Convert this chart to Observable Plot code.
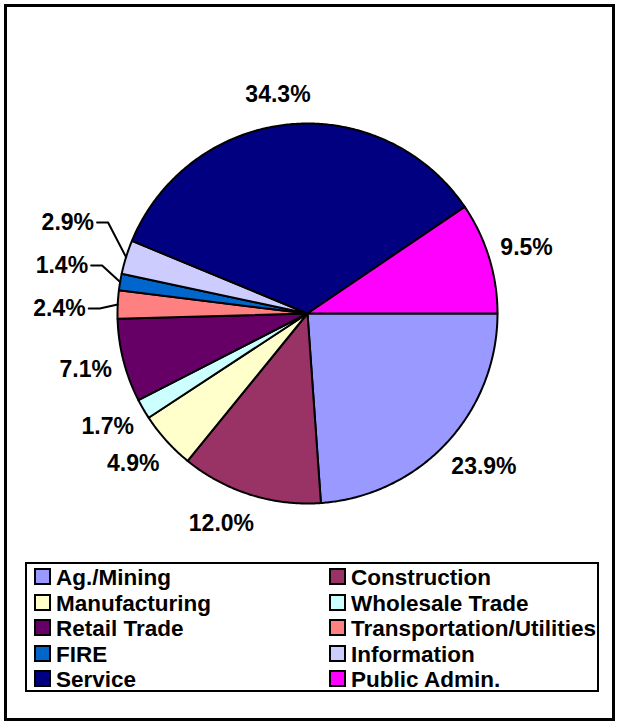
<!DOCTYPE html>
<html>
<head>
<meta charset="utf-8">
<script src="https://cdn.jsdelivr.net/npm/d3@7"></script>
<script src="https://cdn.jsdelivr.net/npm/@observablehq/plot@0.6"></script>
<style>
  html, body { margin: 0; padding: 0; background: #fff; }
  #wrap { position: relative; width: 619px; height: 725px; overflow: hidden; background: #fff;
          font-family: "Liberation Sans", Arial, sans-serif; font-weight: bold; }
  #frame { position: absolute; left: 4px; top: 4px; width: 611px; height: 717px; box-sizing: border-box;
           border: 3px solid #000; }
  #chart { position: absolute; left: 0; top: 0; }
  #legend { position: absolute; left: 25px; top: 562px; width: 574px; height: 130px; box-sizing: border-box;
            border: 2px solid #000; background: #fff; padding: 1px 0 0 7px;
            display: grid; grid-template-columns: 295px 1fr; grid-auto-rows: 25.5px; }
  .item { display: flex; align-items: center; height: 25.5px; font-size: 22.5px; line-height: 25.5px; white-space: nowrap; color: #000; }
  .sw { width: 13px; height: 13px; border: 2px solid #000; margin-right: 5px; flex: none; position: relative; top: -1px; }
</style>
</head>
<body>
<div id="wrap">
  <div id="frame"></div>
  <div id="chart"></div>
  <div id="legend"></div>
</div>
<script>
// ---- data ----
const categories = ["Ag./Mining", "Construction", "Manufacturing", "Wholesale Trade", "Retail Trade",
                    "Transportation/Utilities", "FIRE", "Information", "Service", "Public Admin."];
const shares = [23.9, 12.0, 4.9, 1.7, 7.1, 2.4, 1.4, 2.9, 34.3, 9.5];
const colors = ["#9999FF", "#993366", "#FFFFCC", "#CCFFFF", "#660066",
                "#FF8080", "#0066CC", "#CCCCFF", "#000080", "#FF00FF"];

// ---- layout constants ----
const W = 619, H = 555;
const R = 190;                 // pie radius in px
const cx = 307, cy = 313;      // pie centre in px
const FONT = 23;
const fontFamily = "Liberation Sans, Arial, sans-serif";

// pie geometry in unit coordinates (y down), starting at 3 o'clock, clockwise
const pie = d3.pie().sort(null).value(d => d.value).startAngle(Math.PI / 2).endAngle(Math.PI / 2 + 2 * Math.PI);
const arcs = pie(categories.map((name, i) => ({name, value: shares[i]})));
const pt = (a, r = 1) => [r * Math.sin(a), -r * Math.cos(a)];

const sliceFeatures = arcs.map(a => {
  const n = Math.max(2, Math.ceil((a.endAngle - a.startAngle) / (Math.PI / 360)));
  const ring = [[0, 0]];
  for (let k = 0; k <= n; k++) ring.push(pt(a.startAngle + (a.endAngle - a.startAngle) * k / n));
  ring.push([0, 0]);
  return {type: "Feature", properties: {name: a.data.name}, geometry: {type: "Polygon", coordinates: [ring]}};
});

// approximate text width (Arial/Liberation bold metrics)
const cw = {".": 0.278, "%": 0.889};
const textWidth = s => [...s].reduce((w, ch) => w + (cw[ch] ?? 0.556), 0) * FONT;
const clamp = v => Math.max(-1, Math.min(1, v));

const labelData = [];
const leaderFeatures = [];
let prevLeaderY = Infinity;
arcs.forEach(a => {
  const text = a.data.value.toFixed(1) + "%";
  const mid = (a.startAngle + a.endAngle) / 2;
  const [c, s] = pt(mid);
  const [ex, ey] = [c * R, s * R];          // edge point, px relative to centre
  const hx = textWidth(text) / 2;
  const deg = ((mid * 180 / Math.PI) + 270) % 360;  // angle clockwise from east
  const useLeader = a.data.value < 3 && deg > 180 && deg < 270;
  if (useLeader) {
    const y = Math.min(ey + 4, prevLeaderY - 43);
    prevLeaderY = y;
    const endX = ex - 32;
    labelData.push({x: endX / R, y: y / R, text, anchor: "end"});
    leaderFeatures.push({type: "Feature", properties: {}, geometry: {type: "LineString",
      coordinates: [[(endX + 3) / R, y / R], [(endX + 14) / R, y / R], [ex / R, ey / R]]}});
  } else {
    const rr = R + 20;
    const x = rr * c + 0.7 * hx * clamp(3.5 * c);
    const y = rr * s + 10 * clamp(1.4 * s);
    labelData.push({x: x / R, y: y / R, text, anchor: "middle"});
  }
});

// the projection frame is the whole SVG; its domain is the SVG extent in pie-radius units
const chart = Plot.plot({
  width: W,
  height: H,
  margin: 0,
  projection: {type: "identity", inset: 0,
    domain: {type: "MultiPoint", coordinates: [[-cx / R, -cy / R], [(W - cx) / R, (H - cy) / R]]}},
  color: {type: "ordinal", domain: categories, range: colors},
  style: {background: "transparent", overflow: "visible"},
  marks: [
    Plot.geo(sliceFeatures, {fill: d => d.properties.name, stroke: "#000", strokeWidth: 2, strokeLinejoin: "round"}),
    Plot.geo(leaderFeatures, {stroke: "#000", strokeWidth: 2, fill: "none"}),
    Plot.text(labelData.filter(d => d.anchor === "middle"), {x: "x", y: "y", text: "text", textAnchor: "middle",
      fontSize: FONT, fontWeight: "bold", fontFamily, fill: "#000"}),
    Plot.text(labelData.filter(d => d.anchor === "end"), {x: "x", y: "y", text: "text", textAnchor: "end",
      fontSize: FONT, fontWeight: "bold", fontFamily, fill: "#000"})
  ]
});
document.getElementById("chart").appendChild(chart);

// legend (row-major, two columns)
const legend = document.getElementById("legend");
categories.forEach((name, i) => {
  const item = document.createElement("div");
  item.className = "item";
  const sw = document.createElement("span");
  sw.className = "sw";
  sw.style.background = colors[i];
  item.appendChild(sw);
  item.appendChild(document.createTextNode(name));
  legend.appendChild(item);
});
</script>
</body>
</html>
